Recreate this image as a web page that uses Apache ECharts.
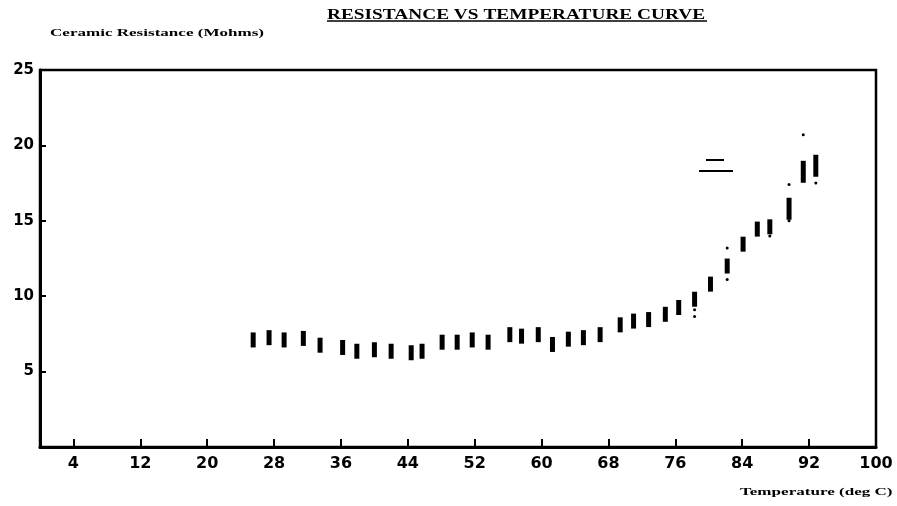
<!DOCTYPE html>
<html>
<head>
<meta charset="utf-8">
<script src="https://cdn.jsdelivr.net/npm/echarts@6/dist/echarts.min.js"></script>
<style>html,body{margin:0;padding:0;background:#fff}#c{width:897px;height:506px}</style>
</head>
<body>
<div id="c"></div>
<script>
// Temperature (deg C) of each reading
var temps = [25.5, 27.4, 29.2, 31.5, 33.5, 36.2, 37.9, 40.0, 42.0, 44.4, 45.7, 48.1, 49.9, 51.7,
  53.6, 56.2, 57.6, 59.6, 61.3, 63.2, 65.0, 67.0, 69.4, 71.0, 72.8, 74.8, 76.4, 78.3,
  80.2, 82.2, 84.1, 85.8, 87.3, 89.6, 91.3, 92.8];
// Ceramic resistance (Mohms)
var resist = [7.1, 7.25, 7.1, 7.2, 6.75, 6.6, 6.35, 6.45, 6.35, 6.25, 6.35, 6.95, 6.95, 7.1,
  6.95, 7.45, 7.35, 7.45, 6.8, 7.15, 7.25, 7.45, 8.1, 8.35, 8.45, 8.8, 9.25, 9.8,
  10.8, 12.0, 13.45, 14.45, 14.6, 15.8, 18.25, 18.65];
// stray small dots near the readings
var dotTemps = [78.3, 78.3, 82.2, 82.2, 87.3, 89.6, 89.6, 91.3, 92.8];
var dotResist = [9.1, 8.65, 13.2, 11.1, 14.0, 17.4, 15.0, 20.7, 17.5];
var xTicks = [4, 12, 20, 28, 36, 44, 52, 60, 68, 76, 84, 92, 100];
var yTicks = [5, 10, 15, 20, 25];
var titleText = 'RESISTANCE VS TEMPERATURE CURVE';
var yName = 'Ceramic Resistance (Mohms)';
var xName = 'Temperature (deg C)';

var chart = echarts.init(document.getElementById('c'));
var hand = 'DejaVu Sans';
chart.setOption({
  animation: false,
  backgroundColor: '#fff',
  grid: {left: 40, right: 21, top: 70, bottom: 59, show: true, borderColor: '#000', borderWidth: 2.5},
  xAxis: {
    type: 'value', min: 0, max: 100,
    axisLine: {lineStyle: {color: '#000', width: 3}},
    axisTick: {inside: true, length: 8, lineStyle: {color: '#000', width: 2}, customValues: xTicks},
    axisLabel: {customValues: xTicks, color: '#000', fontFamily: hand, fontWeight: 'bold', fontSize: 16, margin: 9},
    splitLine: {show: false}
  },
  yAxis: {
    type: 'value', min: 0, max: 25,
    axisLine: {lineStyle: {color: '#000', width: 3}},
    axisTick: {inside: true, length: 6, lineStyle: {color: '#000', width: 2}, customValues: yTicks},
    axisLabel: {customValues: yTicks, color: '#000', fontFamily: hand, fontWeight: 'bold', fontSize: 15, margin: 6},
    splitLine: {show: false}
  },
  graphic: [
    {type: 'text', x: 327, y: 8, scaleX: 1.38, style: {text: titleText,
      font: 'bold 14px "Liberation Serif"', fill: '#000'}},
    {type: 'line', shape: {x1: 327, y1: 21, x2: 707, y2: 21}, style: {stroke: '#000', lineWidth: 1.5}},
    {type: 'text', x: 50, y: 28, scaleX: 1.55, style: {text: yName,
      font: 'bold 11px "Liberation Serif"', fill: '#000'}},
    {type: 'text', x: 740, y: 487, scaleX: 1.55, style: {text: xName,
      font: 'bold 11px "Liberation Serif"', fill: '#000'}},
    {type: 'line', shape: {x1: 706, y1: 160, x2: 724, y2: 160}, style: {stroke: '#000', lineWidth: 2}},
    {type: 'line', shape: {x1: 699, y1: 171, x2: 733, y2: 171}, style: {stroke: '#000', lineWidth: 2}}
  ],
  series: [
    {type: 'scatter', data: temps.map(function (t, i) { return [t, resist[i]]; }),
      symbol: 'rect', symbolSize: function (v) { return [5, v[1] > 15 ? 22 : 15]; },
      itemStyle: {color: '#000', opacity: 1}},
    {type: 'scatter', data: dotTemps.map(function (t, i) { return [t, dotResist[i]]; }),
      symbol: 'circle', symbolSize: 3, itemStyle: {color: '#000', opacity: 1}}
  ]
});
</script>
</body>
</html>
